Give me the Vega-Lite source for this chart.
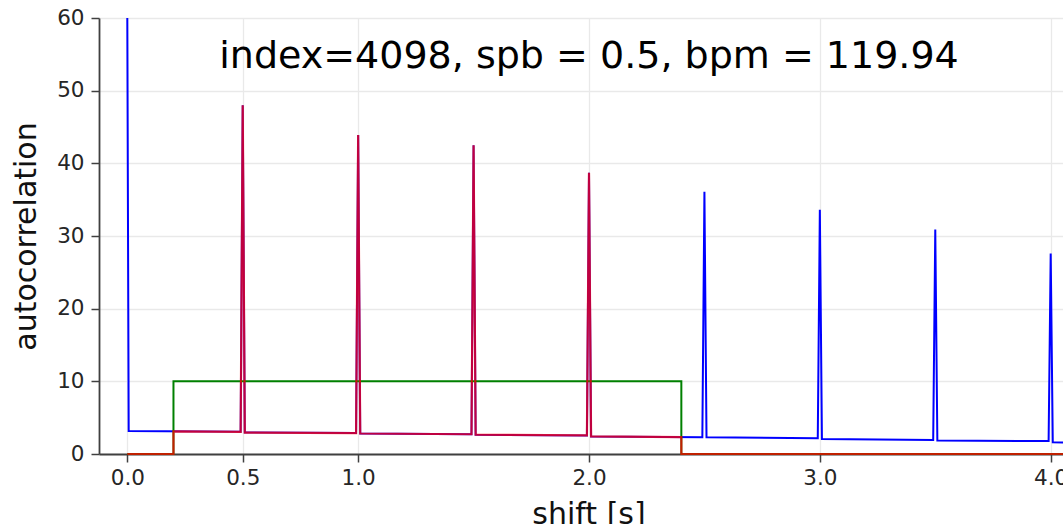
{
  "$schema": "https://vega.github.io/schema/vega-lite/v6.json",
  "width": 964,
  "height": 436,
  "autosize": "none",
  "padding": {"left": 99, "top": 18, "right": 0, "bottom": 70},
  "background": "white",
  "config": {
    "view": {"stroke": null},
    "font": "DejaVu Sans",
    "axis": {
      "labelFont": "DejaVu Sans",
      "titleFont": "DejaVu Sans",
      "labelFontSize": 21.5,
      "titleFontSize": 30,
      "titleFontWeight": "normal",
      "labelColor": "#262626",
      "titleColor": "#111111",
      "gridColor": "#e9e9e9",
      "gridWidth": 1.3,
      "domainColor": "#404040",
      "domainWidth": 1.8,
      "tickColor": "#404040",
      "tickWidth": 1.5,
      "tickSize": 8
    }
  },
  "datasets": {
    "autocorr": [
      {"shift": 0.0, "value": 60.0},
      {"shift": 0.006, "value": 3.15},
      {"shift": 0.491, "value": 3.05},
      {"shift": 0.5, "value": 48.0},
      {"shift": 0.509, "value": 2.95},
      {"shift": 0.991, "value": 2.88},
      {"shift": 1.0, "value": 43.9},
      {"shift": 1.009, "value": 2.82},
      {"shift": 1.491, "value": 2.72},
      {"shift": 1.5, "value": 42.5},
      {"shift": 1.509, "value": 2.65},
      {"shift": 1.991, "value": 2.55},
      {"shift": 2.0, "value": 38.7},
      {"shift": 2.009, "value": 2.42},
      {"shift": 2.491, "value": 2.3},
      {"shift": 2.5, "value": 36.1},
      {"shift": 2.509, "value": 2.3},
      {"shift": 2.991, "value": 2.17},
      {"shift": 3.0, "value": 33.6},
      {"shift": 3.009, "value": 2.05},
      {"shift": 3.491, "value": 1.93},
      {"shift": 3.5, "value": 30.9},
      {"shift": 3.509, "value": 1.85},
      {"shift": 3.991, "value": 1.78},
      {"shift": 4.0, "value": 27.6},
      {"shift": 4.009, "value": 1.6},
      {"shift": 4.07, "value": 1.58}
    ],
    "window": [
      {"shift": 0.0, "value": 0},
      {"shift": 0.2, "value": 0},
      {"shift": 0.2, "value": 10},
      {"shift": 2.4, "value": 10},
      {"shift": 2.4, "value": 0},
      {"shift": 4.07, "value": 0}
    ],
    "windowed": [
      {"shift": 0.0, "value": 0},
      {"shift": 0.2, "value": 0},
      {"shift": 0.2, "value": 3.1},
      {"shift": 0.491, "value": 3.05},
      {"shift": 0.5, "value": 48.0},
      {"shift": 0.509, "value": 2.95},
      {"shift": 0.991, "value": 2.88},
      {"shift": 1.0, "value": 43.9},
      {"shift": 1.009, "value": 2.82},
      {"shift": 1.491, "value": 2.72},
      {"shift": 1.5, "value": 42.5},
      {"shift": 1.509, "value": 2.65},
      {"shift": 1.991, "value": 2.55},
      {"shift": 2.0, "value": 38.7},
      {"shift": 2.009, "value": 2.42},
      {"shift": 2.4, "value": 2.32},
      {"shift": 2.4, "value": 0},
      {"shift": 4.07, "value": 0}
    ],
    "heading": [
      {"label": "index=4098, spb = 0.5, bpm = 119.94", "shift": 2.0, "value": 53.1}
    ]
  },
  "encoding": {
    "x": {
      "field": "shift",
      "type": "quantitative",
      "scale": {"domain": [-0.1226, 4.0533], "nice": false, "zero": false},
      "axis": {
        "title": "shift [s]",
        "values": [0, 0.5, 1, 2, 3, 4],
        "format": ".1f",
        "labelPadding": 22,
        "labelBaseline": "alphabetic",
        "titleX": 489.5,
        "titleY": 69,
        "titleBaseline": "alphabetic",
        "encode": {"ticks": {"update": {"y2": {"value": -8}}}}
      }
    },
    "y": {
      "field": "value",
      "type": "quantitative",
      "scale": {"domain": [0, 60], "nice": false},
      "axis": {
        "title": "autocorrelation",
        "values": [0, 10, 20, 30, 40, 50, 60],
        "labelPadding": 7,
        "titleX": -64,
        "titleY": 218,
        "titleBaseline": "alphabetic",
        "encode": {"ticks": {"update": {"x2": {"value": 8}}}}
      }
    }
  },
  "layer": [
    {
      "data": {"name": "autocorr"},
      "mark": {"type": "line", "color": "#0000ff", "strokeWidth": 2},
      "encoding": {"order": {"value": null}}
    },
    {
      "data": {"name": "window"},
      "mark": {"type": "line", "color": "#008000", "strokeWidth": 2},
      "encoding": {"order": {"value": null}}
    },
    {
      "data": {"name": "windowed"},
      "mark": {"type": "line", "color": "#ff0000", "strokeWidth": 2.2, "opacity": 0.75},
      "encoding": {"order": {"value": null}}
    },
    {
      "data": {"name": "heading"},
      "mark": {"type": "text", "font": "DejaVu Sans", "fontSize": 38, "color": "#000000", "align": "center", "baseline": "alphabetic"},
      "encoding": {"text": {"field": "label"}}
    }
  ]
}
